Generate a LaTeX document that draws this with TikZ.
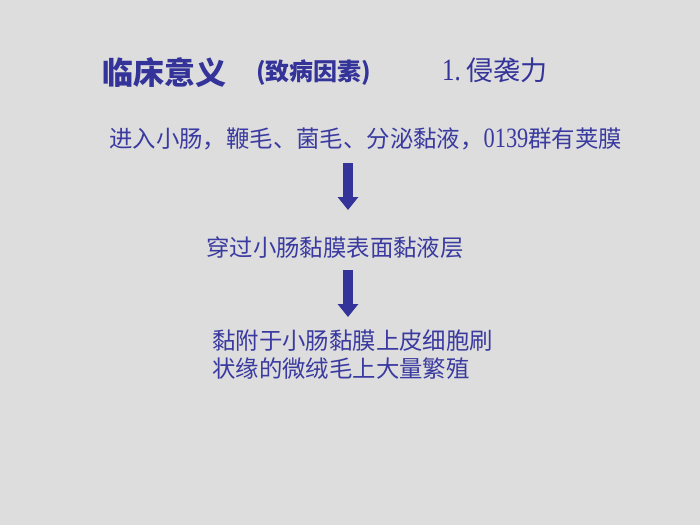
\documentclass[tikz,border=0pt]{standalone}
\usepackage{fontspec}
\usetikzlibrary{arrows.meta}
\newfontfamily\cjk{Noto Sans CJK SC}
\newfontfamily\ser[FakeStretch=0.8]{Liberation Serif}
\definecolor{bgcol}{HTML}{DDDDDD}
\definecolor{navy}{HTML}{333399}
\definecolor{txtblue}{HTML}{3A3AA0}
\tikzset{
  body/.style={anchor=west, inner sep=0pt, text=txtblue, font=\cjk\fontsize{23.4}{28}\selectfont},
  blk/.style={draw=navy, line width=9.5pt, -{Triangle[length=13pt,width=20pt]}},
}
\begin{document}
\begin{tikzpicture}[x=1pt,y=1pt]
\fill[bgcol] (0,0) rectangle (700,-525);
\useasboundingbox (0,0) rectangle (700,-525);
% title
\node[anchor=west, inner sep=0pt, text=navy, font=\cjk\bfseries\fontsize{31}{36}\selectfont] (t1) at (102,-73) {临床意义};
\node[anchor=west, inner sep=0pt, text=navy, font=\cjk\bfseries\fontsize{24}{28}\selectfont] (t2) at (256,-73) {(致病因素)};
\node[anchor=west, inner sep=0pt, text=navy, font=\cjk\fontsize{27}{32}\selectfont] (t3) at (442,-70) {{\ser\fontsize{31}{36}\selectfont 1.}\hspace{6pt}侵袭力};
% body
\node[body] (n1) at (109,-139) {进入小肠，鞭毛、菌毛、分泌黏液，{\ser\fontsize{28}{28}\selectfont 0139}群有荚膜};
\node[body] (n2) at (206,-248) {穿过小肠黏膜表面黏液层};
\node[body] (n3) at (212,-341) {黏附于小肠黏膜上皮细胞刷};
\node[body] (n4) at (212,-369) {状缘的微绒毛上大量繁殖};
% arrows
\coordinate (a1s) at (348,-163);
\coordinate (a1e) at (348,-210);
\coordinate (a2s) at (348,-270);
\coordinate (a2e) at (348,-317);
\draw[blk] (a1s) -- (a1e);
\draw[blk] (a2s) -- (a2e);
\end{tikzpicture}
\end{document}
